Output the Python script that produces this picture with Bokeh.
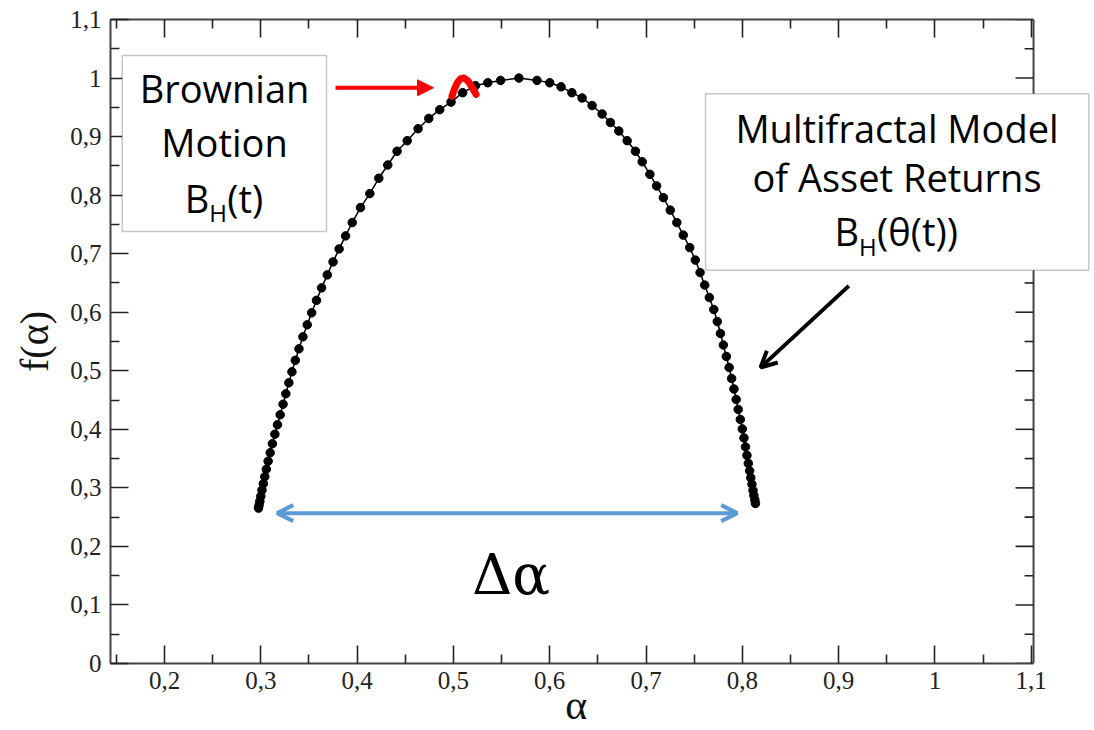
from bokeh.plotting import figure
from bokeh.models import (FixedTicker, LinearAxis, Range1d, Label, BoxAnnotation,
                          Arrow, NormalHead, OpenHead, ColumnDataSource,
                          CustomLabelingPolicy)
from bokeh.embed import file_html
from bokeh.resources import INLINE

# Multifractal spectrum f(alpha): left branch (bottom -> peak) then right branch (peak -> bottom)
alpha_spec = [
    0.2976, 0.2982, 0.2990, 0.3000, 0.3012, 0.3026, 0.3041, 0.3057, 0.3076, 0.3097,
    0.3120, 0.3146, 0.3173, 0.3201, 0.3231, 0.3260, 0.3291, 0.3323, 0.3358, 0.3396,
    0.3437, 0.3482, 0.3528, 0.3578, 0.3631, 0.3690, 0.3750, 0.3813, 0.3880, 0.3949,
    0.4035, 0.4132, 0.4225, 0.4318, 0.4415, 0.4520, 0.4633, 0.4744, 0.4858, 0.4975,
    0.5096, 0.5228, 0.5357, 0.5490, 0.5680,
    0.5868, 0.6000, 0.6118, 0.6230, 0.6336, 0.6440, 0.6544, 0.6630, 0.6717, 0.6804,
    0.6890, 0.6960, 0.7040, 0.7110, 0.7180, 0.7252, 0.7320, 0.7387, 0.7454, 0.7512,
    0.7561, 0.7609, 0.7657, 0.7704, 0.7740, 0.7773, 0.7803, 0.7834, 0.7863, 0.7889,
    0.7913, 0.7936, 0.7957, 0.7979, 0.8000, 0.8017, 0.8033, 0.8048, 0.8062, 0.8076,
    0.8088, 0.8100, 0.8111, 0.8120, 0.8130, 0.8136,
]
f_spec = [
    0.2654, 0.2705, 0.2773, 0.2858, 0.2961, 0.3072, 0.3191, 0.3319, 0.3456, 0.3601,
    0.3754, 0.3916, 0.4078, 0.4249, 0.4428, 0.4608, 0.4795, 0.4983, 0.5179, 0.5375,
    0.5580, 0.5785, 0.5990, 0.6203, 0.6416, 0.6638, 0.6860, 0.7082, 0.7304, 0.7531,
    0.7787, 0.8026, 0.8288, 0.8515, 0.8750, 0.8930, 0.9135, 0.9310, 0.9460, 0.9590,
    0.9750, 0.9870, 0.9920, 0.9960, 1.0000,
    0.9960, 0.9920, 0.9850, 0.9750, 0.9660, 0.9530, 0.9386, 0.9240, 0.9096, 0.8930,
    0.8750, 0.8570, 0.8355, 0.8157, 0.7957, 0.7744, 0.7531, 0.7317, 0.7104, 0.6891,
    0.6677, 0.6464, 0.6251, 0.6046, 0.5841, 0.5637, 0.5440, 0.5244, 0.5056, 0.4869,
    0.4689, 0.4510, 0.4340, 0.4169, 0.4007, 0.3853, 0.3700, 0.3555, 0.3418, 0.3290,
    0.3171, 0.3060, 0.2957, 0.2872, 0.2795, 0.2735,
]

# Spectrum of Brownian motion: a narrow cap around alpha = 0.51
bm_alpha = [0.4985, 0.5010, 0.5040, 0.5075, 0.5110, 0.5145, 0.5180, 0.5215, 0.5235]
bm_f = [0.969, 0.981, 0.992, 0.999, 1.000, 0.996, 0.988, 0.978, 0.972]

x_major = [0.2, 0.3, 0.4, 0.5, 0.6, 0.7, 0.8, 0.9, 1.0, 1.1]
x_minor = [0.15, 0.25, 0.35, 0.45, 0.55, 0.65, 0.75, 0.85, 0.95, 1.05]
x_tick_labels = ["0,2", "0,3", "0,4", "0,5", "0,6", "0,7", "0,8", "0,9", "1", "1,1"]
y_major = [0.0, 0.1, 0.2, 0.3, 0.4, 0.5, 0.6, 0.7, 0.8, 0.9, 1.0, 1.1]
y_minor = [0.05, 0.15, 0.25, 0.35, 0.45, 0.55, 0.65, 0.75, 0.85, 0.95, 1.05]
y_tick_labels = ["0", "0,1", "0,2", "0,3", "0,4", "0,5", "0,6", "0,7", "0,8", "0,9", "1", "1,1"]

SERIF = "Liberation Serif"
GREEK_SERIF = "DejaVu Serif"
SANS = "Open Sans"

X_LO, X_HI = 0.1439, 1.1024      # extent of the axis box
X_VIEW_HI = 1.1657               # drawing area runs on past the box for the side note
TICK_MAJ = 0.0187                # 18 px in alpha units
TICK_MIN = 0.0093

p = figure(width=1094, height=730, output_backend="svg", toolbar_location=None,
           x_range=Range1d(X_LO, X_VIEW_HI), y_range=Range1d(0.0, 1.1),
           x_axis_type=None, y_axis_type=None,
           min_border_left=110, min_border_right=0, min_border_top=19, min_border_bottom=67)
p.outline_line_color = None
p.xgrid.visible = False
p.ygrid.visible = False
p.background_fill_color = "white"
p.border_fill_color = "white"

AXIS_COLOR = "#444444"
TICK_COLOR = "#222222"


def style_axis(ax, labelled):
    ax.axis_line_color = AXIS_COLOR
    ax.axis_line_width = 2
    ax.major_tick_in = 18
    ax.major_tick_out = 0
    ax.minor_tick_in = 9
    ax.minor_tick_out = 0
    ax.major_tick_line_color = TICK_COLOR
    ax.minor_tick_line_color = TICK_COLOR
    ax.major_tick_line_width = 1.6
    ax.minor_tick_line_width = 1.6
    if labelled:
        ax.major_label_text_font = SERIF
        ax.major_label_text_font_size = "25px"
        ax.major_label_text_color = TICK_COLOR
    else:
        ax.major_label_text_font_size = "0px"
        ax.major_label_standoff = 0
        ax.major_label_policy = CustomLabelingPolicy(code="return new Set()")


xt = FixedTicker(ticks=x_major, minor_ticks=x_minor)
yt = FixedTicker(ticks=y_major, minor_ticks=y_minor)

# the label is centred on the whole drawing width; trailing no-break spaces
# pull the glyph back over the middle of the axis box
xb = LinearAxis(ticker=xt, axis_label="α" + "\u00a0" * 5, bounds=(X_LO, X_HI))
style_axis(xb, True)
xb.major_label_overrides = dict(zip(x_major, x_tick_labels))
xb.major_label_standoff = 8
xb.axis_label_text_font = SERIF
xb.axis_label_text_font_style = "normal"
xb.axis_label_text_font_size = "42px"
xb.axis_label_text_color = "#111111"
xb.axis_label_standoff = -10
p.add_layout(xb, "below")

yl = LinearAxis(ticker=yt, axis_label="f(α)")
style_axis(yl, True)
yl.major_label_overrides = dict(zip(y_major, y_tick_labels))
yl.major_label_standoff = 9
yl.axis_label_text_font = SERIF
yl.axis_label_text_font_style = "normal"
yl.axis_label_text_font_size = "40px"
yl.axis_label_text_color = "#111111"
yl.axis_label_standoff = 10
p.add_layout(yl, "left")

xa = LinearAxis(ticker=xt, bounds=(X_LO, X_HI))
style_axis(xa, False)
p.add_layout(xa, "above")

# right-hand side of the axis box, with inward ticks
p.segment(x0=[X_HI], y0=[y_major[0]], x1=[X_HI], y1=[y_major[-1]],
          line_color=AXIS_COLOR, line_width=2)
p.segment(x0=[X_HI] * len(y_major), y0=y_major, x1=[X_HI - TICK_MAJ] * len(y_major), y1=y_major,
          line_color=TICK_COLOR, line_width=1.6)
p.segment(x0=[X_HI] * len(y_minor), y0=y_minor, x1=[X_HI - TICK_MIN] * len(y_minor), y1=y_minor,
          line_color=TICK_COLOR, line_width=1.6)

# spectrum curve with dots
src = ColumnDataSource(dict(a=alpha_spec, f=f_spec))
p.line("a", "f", source=src, line_color="black", line_width=1.5)
p.scatter("a", "f", source=src, size=8.5, fill_color="black", line_color="black")

# Brownian motion cap
p.line(bm_alpha, bm_f, line_color="#ff0000", line_width=7, line_cap="round", line_join="round")

# annotation boxes
box1 = BoxAnnotation(left=0.1561, right=0.3682, top=1.0387, bottom=0.7377,
                     fill_color="white", fill_alpha=1.0,
                     line_color="#444444", line_width=1.5)
box2 = BoxAnnotation(left=0.7618, right=1.1598, top=0.9732, bottom=0.6718,
                     fill_color="white", fill_alpha=1.0,
                     line_color="#444444", line_width=1.5)
p.add_layout(box1)
p.add_layout(box2)

BOX_FONT = "38px"
SUB_FONT = "24px"


def txt(x, y, s, size=BOX_FONT, align="center", font=SANS):
    lab = Label(x=x, y=y, text=s, text_align=align, text_baseline="alphabetic",
                text_font=font, text_font_size=size, text_color="black")
    p.add_layout(lab)


txt(0.2623, 0.9834, "Brownian")
txt(0.2623, 0.8915, "Motion")
txt(0.2465, 0.7950, "B", align="right")
txt(0.2465, 0.7702, "H", size=SUB_FONT, align="left")
txt(0.2652, 0.7950, "(t)", align="left")

txt(0.9606, 0.9145, "Multifractal Model")
txt(0.9606, 0.8302, "of Asset Returns")
txt(0.9212, 0.7380, "B", align="right")
txt(0.9212, 0.7126, "H", size=SUB_FONT, align="left")
txt(0.9399, 0.7380, "(θ(t))", align="left")

txt(0.5598, 0.1520, "Δα", size="56px", font=GREEK_SERIF)

# arrows
p.add_layout(Arrow(x_start=0.3776, y_start=0.9834, x_end=0.4793, y_end=0.9834,
                   line_color="#ff0000", line_width=4,
                   end=NormalHead(size=16, fill_color="#ff0000", line_color="#ff0000")))
p.add_layout(Arrow(x_start=0.3170, y_start=0.2568, x_end=0.7947, y_end=0.2568,
                   line_color="#5b9bd5", line_width=4,
                   start=OpenHead(size=16, line_color="#5b9bd5", line_width=4),
                   end=OpenHead(size=16, line_color="#5b9bd5", line_width=4)))
p.add_layout(Arrow(x_start=0.9106, y_start=0.6450, x_end=0.8189, y_end=0.5056,
                   line_color="black", line_width=4,
                   end=OpenHead(size=16, line_color="black", line_width=4)))

open("out.html", "w").write(file_html(p, INLINE))
